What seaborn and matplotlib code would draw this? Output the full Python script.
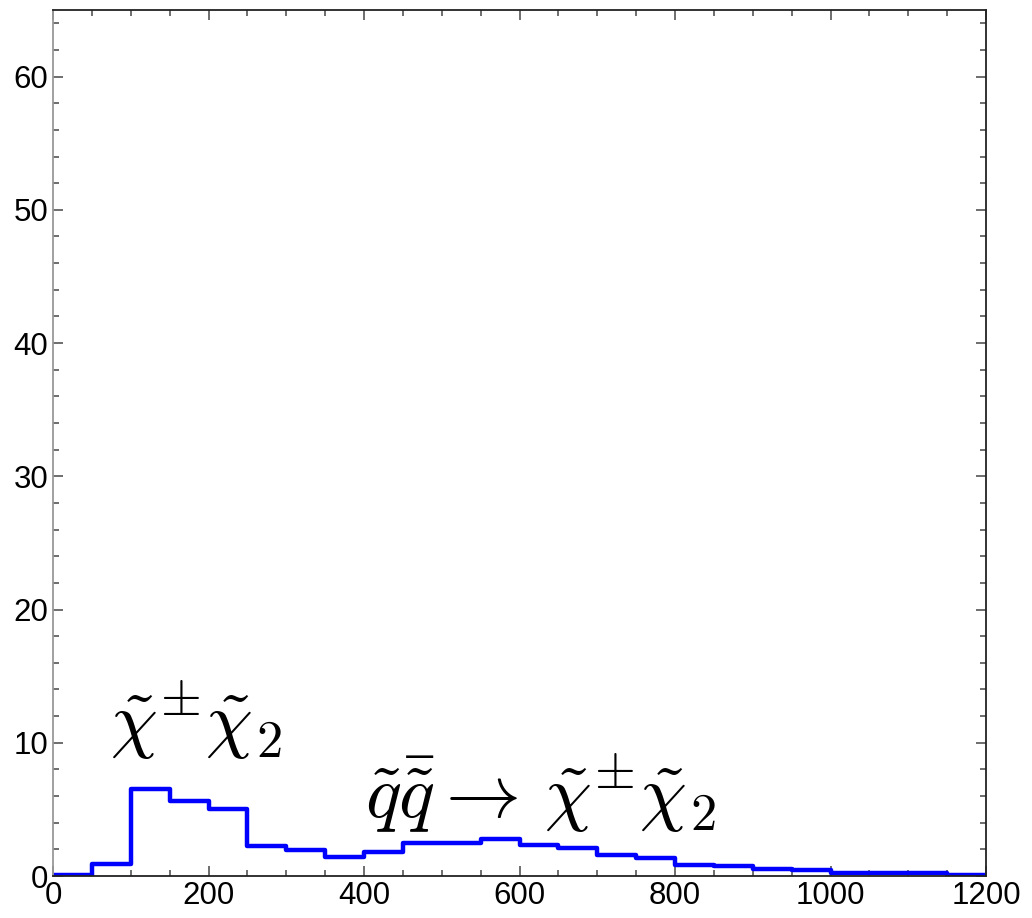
import numpy as np
import pandas as pd
import seaborn as sns
import matplotlib
matplotlib.use("Agg")
import matplotlib.pyplot as plt
from matplotlib.ticker import MultipleLocator
from matplotlib import font_manager

# Data: histogram bin edges and heights (bins of width 50 from 0 to 1200)
bin_edges = [0, 50, 100, 150, 200, 250, 300, 350, 400, 450, 500, 550, 600,
             650, 700, 750, 800, 850, 900, 950, 1000, 1050, 1100, 1150, 1200]
counts = [0.05, 0.9, 6.5, 5.6, 5.0, 2.25, 1.95, 1.4, 1.8, 2.5, 2.5, 2.8, 2.3,
          2.1, 1.6, 1.35, 0.8, 0.75, 0.5, 0.45, 0.25, 0.22, 0.2, 0.08]
label_1 = r"$\tilde{\chi}^{\pm}\tilde{\chi}_2$"
label_2 = r"$\tilde{q}\bar{\tilde{q}}\rightarrow\,\tilde{\chi}^{\pm}\tilde{\chi}_2$"
x_ticks = [0, 200, 400, 600, 800, 1000, 1200]
y_ticks = [0, 10, 20, 30, 40, 50, 60]

sns.set_style("ticks")
available = {f.name for f in font_manager.fontManager.ttflist}
tick_family = ["Liberation Sans Narrow"] if "Liberation Sans Narrow" in available else ["Liberation Sans"]
plt.rcParams["font.family"] = tick_family + ["DejaVu Sans"]
plt.rcParams["mathtext.fontset"] = "cm"

centers = [(a + b) / 2 for a, b in zip(bin_edges[:-1], bin_edges[1:])]
df = pd.DataFrame({"x": centers, "w": counts})

fig = plt.figure(figsize=(10.32, 9.18), dpi=100)
ax = fig.add_axes([53 / 1032, 42 / 918, 933 / 1032, 866 / 918])

sns.histplot(data=df, x="x", weights="w", bins=bin_edges, element="step",
             fill=False, color="#0000ff", linewidth=3.2, ax=ax)

ax.set_xlim(0, 1200)
ax.set_ylim(0, 65)
ax.set_xlabel("")
ax.set_ylabel("")
ax.set_xticks(x_ticks)
ax.set_yticks(y_ticks)
ax.xaxis.set_minor_locator(MultipleLocator(50))
ax.yaxis.set_minor_locator(MultipleLocator(2))
ax.tick_params(which="both", direction="in", top=True, right=True,
               color="#555555", width=1.2, labelcolor="black")
ax.tick_params(which="major", length=7, labelsize=22.5)
ax.tick_params(which="minor", length=4)
for s in ax.spines.values():
    s.set_linewidth(1.3)
    s.set_color("#222222")
ax.spines["left"].set_color("#999999")

ax.text(73, 9.8, label_1, fontsize=54, color="black")
ax.text(401, 4.35, label_2, fontsize=54, color="black")

fig.savefig("out.png", dpi=100)
